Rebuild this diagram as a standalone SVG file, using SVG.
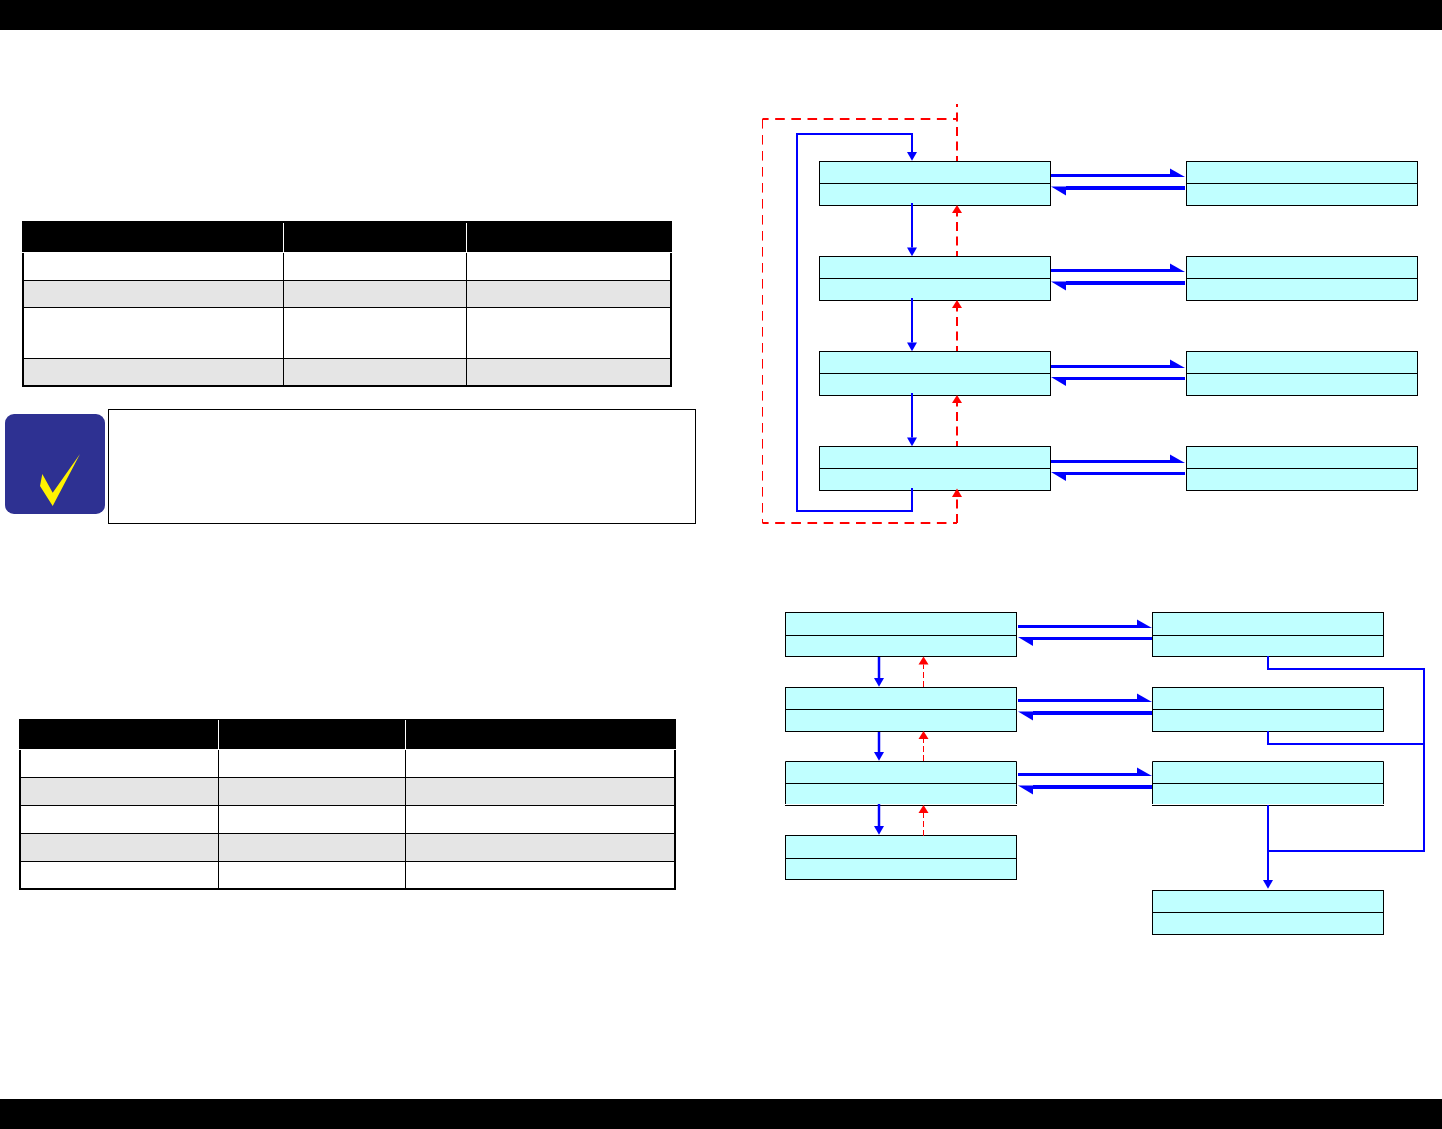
<svg xmlns="http://www.w3.org/2000/svg" width="1442" height="1129" viewBox="0 0 1442 1129">
<style>
.bar{fill:#000}
.n{fill:#c0ffff;stroke:#000;stroke-width:1}
.f{fill:#c0ffff}
.div{stroke:#000;stroke-width:1;fill:none}
.b2{stroke:#0000ff;stroke-width:2;fill:none}
.b3{stroke:#0000ff;stroke-width:2.5;fill:none}
.bd{marker-end:url(#hd)}
.w3{stroke-width:3}
.w4{stroke-width:4}
.hr{stroke:#0000ff;fill:none;marker-end:url(#hr)}
.hl{stroke:#0000ff;fill:none;marker-end:url(#hl)}
.r{stroke:#ff0000;stroke-width:2;fill:none;stroke-dasharray:9 5.5;stroke-dashoffset:4}
.rh{stroke:#ff0000;stroke-width:2;fill:none;stroke-dasharray:9.6 6.57;stroke-dashoffset:3.5}
.ra{marker-end:url(#hu)}
.rt{stroke:#ff0000;stroke-width:1;fill:none;stroke-dasharray:9.6 6.4}
.rs{stroke:#ff0000;stroke-width:1;fill:none;stroke-dasharray:6 3;marker-end:url(#hu)}
.g{fill:#e5e5e5}
.tl{stroke:#000;stroke-width:1;fill:none}
.to{stroke:#000;stroke-width:2;fill:none}
.ws{stroke:#fff;stroke-width:1}
</style>
<defs>
<marker id="hd" markerUnits="userSpaceOnUse" markerWidth="10" markerHeight="10" refX="5" refY="0" orient="0" overflow="visible"><path d="M0 0H10L5 8.7Z" fill="#0000ff"/></marker>
<marker id="hu" markerUnits="userSpaceOnUse" markerWidth="10" markerHeight="10" refX="5" refY="8" orient="0" overflow="visible"><path d="M0 8H10L5 0Z" fill="#ff0000"/></marker>
<marker id="hr" markerUnits="userSpaceOnUse" markerWidth="15" markerHeight="10" refX="0" refY="7" orient="0" overflow="visible"><path d="M0 0L15 8.5H0Z" fill="#0000ff"/></marker>
<marker id="hl" markerUnits="userSpaceOnUse" markerWidth="15" markerHeight="10" refX="15" refY="1.5" orient="0" overflow="visible"><path d="M15 0H0L15 9Z" fill="#0000ff"/></marker>
</defs>
<rect width="1442" height="1129" fill="#fff"/>
<rect class="bar" x="0" y="0" width="1442" height="30"/>
<rect class="bar" x="0" y="1099" width="1442" height="30"/>

<g id="table1">
<rect x="22" y="221" width="650" height="31" fill="#000"/>
<rect class="g" x="23" y="280" width="648" height="27"/>
<rect class="g" x="23" y="358" width="648" height="27"/>
<path class="ws" d="M283.5 223V252M466.5 223V252"/>
<path class="tl" d="M23 280.5H671M23 307.5H671M23 358.5H671M283.5 253V386M466.5 253V386"/>
<path class="to" d="M23 253V386H671V253"/>
</g>

<g id="note">
<rect x="108.5" y="409.5" width="587" height="114" fill="#fff" stroke="#000" stroke-width="1"/>
</g>
<g id="check-icon">
<rect x="5" y="414" width="100" height="100" rx="9" fill="#2e3192"/>
<path d="M80 454L52.7 506L40 486L42.3 474L52.7 492.7Z" fill="#fff200"/>
</g>

<g id="table2">
<rect x="19" y="719" width="657" height="30" fill="#000"/>
<rect class="g" x="20" y="777" width="655" height="28"/>
<rect class="g" x="20" y="833" width="655" height="28"/>
<path class="ws" d="M218.5 720V749M405.5 720V749"/>
<path class="tl" d="M20 777.5H675M20 805.5H675M20 833.5H675M20 861.5H675M218.5 750V889M405.5 750V889"/>
<path class="to" d="M20 750V889H675V750"/>
</g>

<g id="node-a1"><rect class="n" x="819.5" y="161.5" width="231" height="44"/><path class="div" d="M819.5 183.5H1050.5"/></g>
<g id="node-a2"><rect class="n" x="819.5" y="256.5" width="231" height="44"/><path class="div" d="M819.5 278.5H1050.5"/></g>
<g id="node-a3"><rect class="n" x="819.5" y="351.5" width="231" height="44"/><path class="div" d="M819.5 373.5H1050.5"/></g>
<g id="node-a4"><rect class="n" x="819.5" y="446.5" width="231" height="44"/><path class="div" d="M819.5 468.5H1050.5"/></g>
<g id="node-b1"><rect class="n" x="1186.5" y="161.5" width="231" height="44"/><path class="div" d="M1186.5 183.5H1417.5"/></g>
<g id="node-b2"><rect class="n" x="1186.5" y="256.5" width="231" height="44"/><path class="div" d="M1186.5 278.5H1417.5"/></g>
<g id="node-b3"><rect class="n" x="1186.5" y="351.5" width="231" height="44"/><path class="div" d="M1186.5 373.5H1417.5"/></g>
<g id="node-b4"><rect class="n" x="1186.5" y="446.5" width="231" height="44"/><path class="div" d="M1186.5 468.5H1417.5"/></g>

<g id="node-c1"><rect class="n" x="785.5" y="612.5" width="231" height="44"/><path class="div" d="M785.5 635.5H1016.5"/></g>
<g id="node-c2"><rect class="n" x="785.5" y="687.5" width="231" height="44"/><path class="div" d="M785.5 709.5H1016.5"/></g>
<g id="node-c3"><rect class="f" x="785.5" y="761.5" width="231" height="42.5"/><path class="div" d="M785.5 804V761.5H1016.5V804M785.5 783.5H1016.5M785 805.5H1017"/></g>
<g id="node-c4"><rect class="n" x="785.5" y="835.5" width="231" height="44"/><path class="div" d="M785.5 858.5H1016.5"/></g>
<g id="node-d1"><rect class="n" x="1152.5" y="612.5" width="231" height="44"/><path class="div" d="M1152.5 635.5H1383.5"/></g>
<g id="node-d2"><rect class="n" x="1152.5" y="687.5" width="231" height="44"/><path class="div" d="M1152.5 709.5H1383.5"/></g>
<g id="node-d3"><rect class="f" x="1152.5" y="761.5" width="231" height="42.5"/><path class="div" d="M1152.5 804V761.5H1383.5V804M1152.5 783.5H1383.5M1152 805.5H1384"/></g>
<g id="node-d4"><rect class="n" x="1152.5" y="890.5" width="231" height="44"/><path class="div" d="M1152.5 912.5H1383.5"/></g>

<g id="connectors">
<path class="b2 bd" d="M912 488V511H797V134H912V152"/>
<path class="b2 bd" d="M912 203V247.5"/>
<path class="b2 bd" d="M912 298V342.5"/>
<path class="b2 bd" d="M912 393V437.5"/>

<path class="hr w3" d="M1051 175.5H1170"/>
<path class="hl w4" d="M1185 188H1066"/>
<path class="hr w3" d="M1051 270.5H1170"/>
<path class="hl w4" d="M1185 283H1066"/>
<path class="hr w3" d="M1051 366.5H1170"/>
<path class="hl w3" d="M1185 378.5H1066"/>
<path class="hr w3" d="M1051 461.5H1170"/>
<path class="hl w3" d="M1185 473.5H1066"/>

<path class="r" style="stroke-dashoffset:6" d="M957 104V161"/>
<path class="rh" d="M762.5 119H957"/>
<path class="rt" d="M762.5 119V523"/>
<path class="rh" d="M762.5 523H957"/>
<path class="r" style="stroke-dashoffset:0" d="M957 523V497"/>
<path d="M952 497H962L957 488.5Z" fill="#ff0000"/>
<path class="r ra" d="M957 256V213"/>
<path class="r ra" d="M957 351V308"/>
<path class="r ra" d="M957 446V403"/>

<path class="hr w3" d="M1018 626.5H1137"/>
<path class="hl w3" d="M1152 638.5H1033"/>
<path class="hr w3" d="M1018 700.5H1137"/>
<path class="hl w4" d="M1152 713H1033"/>
<path class="hr w3" d="M1018 774.5H1137"/>
<path class="hl w4" d="M1152 787H1033"/>

<path class="b3 bd" d="M879 657V678"/>
<path class="b3 bd" d="M879 732V752"/>
<path class="b3 bd" d="M879 804V826"/>

<path class="rs" d="M923.5 687V664.5"/>
<path class="rs" d="M923.5 761V739"/>
<path class="rs" d="M923.5 836V813"/>

<path class="b2" d="M1268 656V669H1424V851H1268"/>
<path class="b2" d="M1268 731V744H1424"/>
<path class="b2 bd" d="M1268 805V880"/>
</g>
</svg>
